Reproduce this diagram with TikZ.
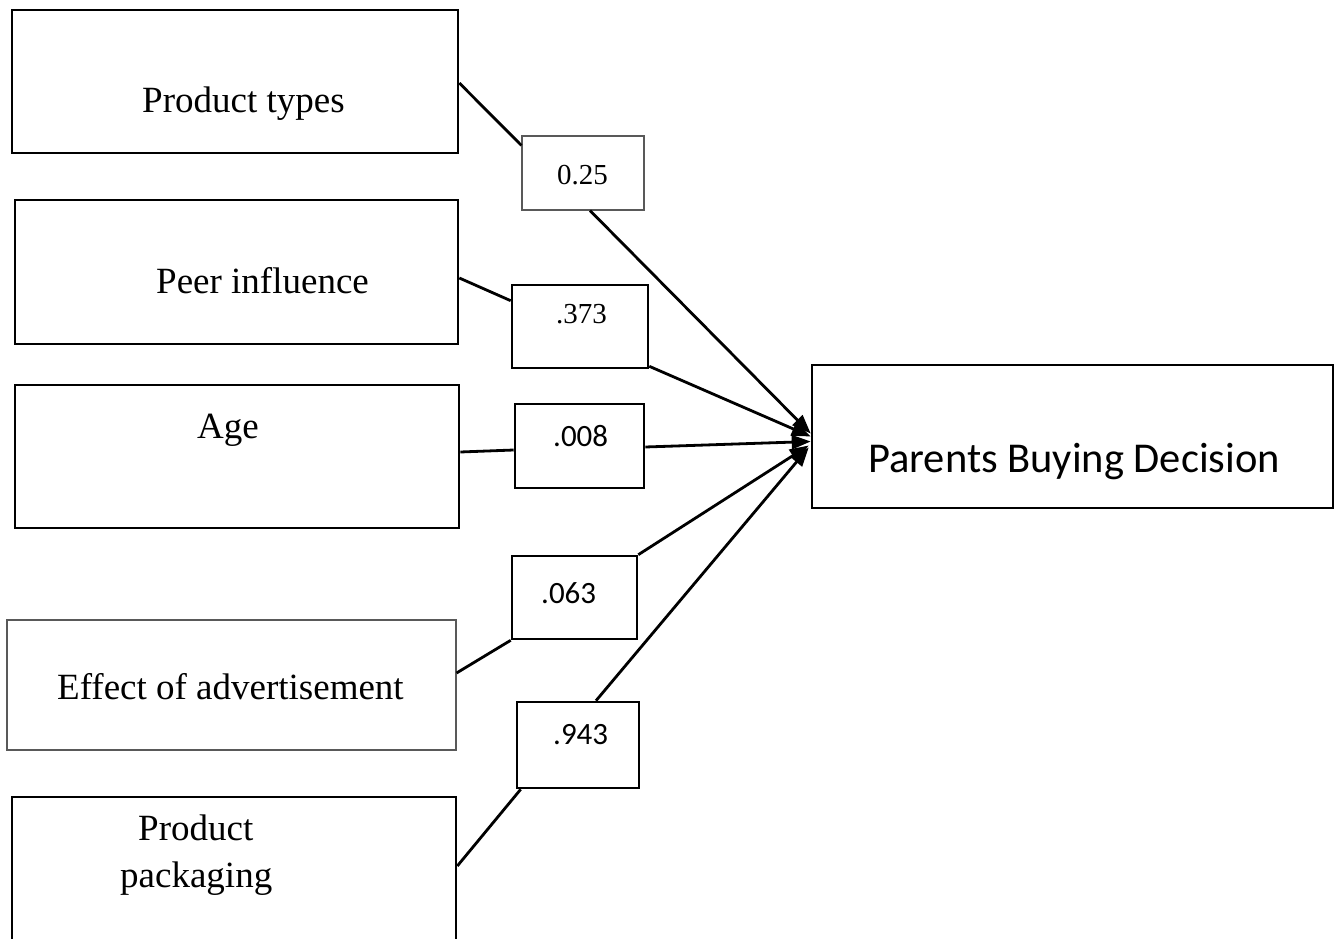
\documentclass[tikz,border=0pt]{standalone}
\usepackage{fontspec}
\setmainfont{Liberation Serif}
\newfontfamily\calibfont{Carlito}
\usetikzlibrary{arrows.meta}
\begin{document}
\begin{tikzpicture}[x=1pt,y=-1pt,
  varbox/.style={draw=black,line width=2.6pt,rectangle,inner sep=0pt,fill=white},
  thinbox/.style={draw=black!65,line width=1.1pt,rectangle,inner sep=0pt,fill=white},
  txt/.style={inner sep=0pt,anchor=base west,font=\fontsize{37}{44}\selectfont},
  numserif/.style={inner sep=0pt,anchor=base west,font=\fontsize{29}{34}\selectfont},
  numsans/.style={inner sep=0pt,anchor=base west,font=\calibfont\fontsize{31}{36}\selectfont},
  link/.style={line width=2.8pt},
  path/.style={line width=2.8pt,-{Triangle[length=19pt,width=14pt]}}]
\useasboundingbox (0,0) rectangle (1335,939);

% predictor boxes
\node[varbox,minimum width=446,minimum height=143] (pt) at (235,81.5) {};
\node[varbox,minimum width=443,minimum height=144] (pe) at (236.5,272) {};
\node[varbox,minimum width=444,minimum height=143] (age) at (237,456.5) {};
\node[thinbox,minimum width=449,minimum height=130] (ad) at (231.5,685) {};
\node[varbox,minimum width=444,minimum height=170] (pp) at (234,882) {};

\node[txt] (ptl) at (142,113) {Product types};
\node[txt] (pel) at (156,293) {Peer influence};
\node[txt] (agel) at (197,438) {Age};
\node[txt] (adl) at (57,699) {Effect of advertisement};
\node[txt] (ppl1) at (138,840) {Product};
\node[txt] (ppl2) at (120,887) {packaging};

% outcome box
\node[varbox,minimum width=521,minimum height=143] (pbd) at (1072.5,436.5) {};
\node[inner sep=0pt,anchor=base west,font=\calibfont\fontsize{42.5}{50}\selectfont] (pbdl) at (868,472) {Parents Buying Decision};

% coefficient boxes
\node[thinbox,minimum width=122,minimum height=74] (c1) at (583,173) {};
\node[varbox,minimum width=136,minimum height=83] (c2) at (580,326.5) {};
\node[varbox,minimum width=129,minimum height=84] (c3) at (579.5,446) {};
\node[varbox,minimum width=125,minimum height=83] (c4) at (574.5,597.5) {};
\node[varbox,minimum width=122,minimum height=86] (c5) at (578,745) {};

\node[numserif] (c1l) at (557,184) {0.25};
\node[numserif] (c2l) at (556,323) {.373};
\node[numsans] (c3l) at (553,446) {.008};
\node[numsans] (c4l) at (541,603) {.063};
\node[numsans] (c5l) at (553,744) {.943};

% arrow tips on the outcome box
\coordinate (t1) at ([yshift=3pt]pbd.west);
\coordinate (t2) at ([yshift=0pt]pbd.west);
\coordinate (t3) at ([yshift=-5pt]pbd.west);
\coordinate (t4) at ([xshift=-2pt,yshift=-9pt]pbd.west);
\coordinate (t5) at ([xshift=-2pt,yshift=-11pt]pbd.west);

% paths
\draw[link] ([yshift=-1.5pt]pt.east) -- ([yshift=-10pt]c1.north west);
\draw[path] ([xshift=7pt]c1.south) -- (t1);

\draw[link] ([yshift=-6pt]pe.east) -- ([yshift=-17pt]c2.north west);
\draw[path] ([yshift=3pt]c2.south east) -- (t2);

\draw[link] ([yshift=4.5pt]age.east) -- ([yshift=-4pt]c3.west);
\draw[path] ([yshift=-1pt]c3.east) -- (t3);

\draw[link] ([yshift=12pt]ad.east) -- (c4.south west);
\draw[path] (c4.north east) -- (t4);

\draw[link] ([yshift=16pt]pp.east) -- ([xshift=5pt]c5.south west);
\draw[path] ([xshift=18pt]c5.north) -- (t5);
\end{tikzpicture}
\end{document}
